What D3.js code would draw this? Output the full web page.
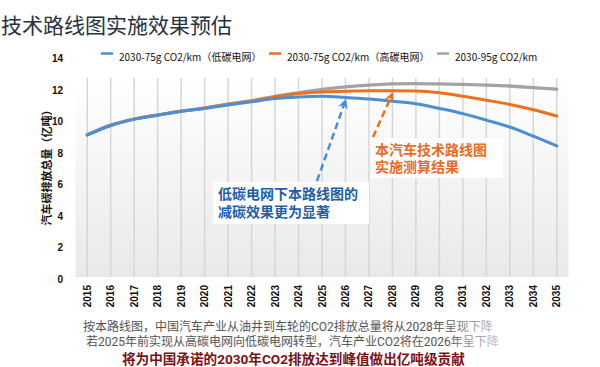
<!DOCTYPE html>
<html><head><meta charset="utf-8">
<script src="https://cdn.jsdelivr.net/npm/d3@7/dist/d3.min.js"></script>
<style>
html,body{margin:0;padding:0;background:#fff;}
svg{display:block;}
</style></head>
<body>
<svg id="c" width="600" height="367"></svg>
<script>
const years = ["2015","2016","2017","2018","2019","2020","2021","2022","2023","2024","2025","2026","2027","2028","2029","2030","2031","2032","2033","2034","2035"];
const lowCarbon = [9.0,9.6,10.0,10.25,10.5,10.68,10.9,11.1,11.3,11.41,11.45,11.37,11.27,11.14,10.98,10.68,10.35,9.94,9.5,8.92,8.3];
const highCarbon = [9.0,9.6,10.0,10.27,10.5,10.7,10.94,11.13,11.4,11.62,11.72,11.76,11.8,11.8,11.78,11.67,11.45,11.2,10.93,10.6,10.2];
const base95 = [9.0,9.62,10.0,10.25,10.5,10.7,10.95,11.17,11.45,11.67,11.88,12.04,12.16,12.23,12.25,12.23,12.2,12.16,12.1,12.0,11.9];
const yTicks = [0,2,4,6,8,10,12,14];
const seriesNames = ["2030-75g CO2/km（低碳电网）","2030-75g CO2/km（高碳电网）","2030-95g CO2/km"];
const seriesColors = ["#4a8fd6","#ef6f1f","#a3a3a3"];
const titleText = "技术路线图实施效果预估";
const yTitle = "汽车碳排放总量（亿吨）";
const noteBlue = ["低碳电网下本路线图的","减碳效果更为显著"];
const noteOrange = ["本汽车技术路线图","实施测算结果"];
const footLines = ["按本路线图，中国汽车产业从油井到车轮的CO2排放总量将从2028年呈现下降",
                   "若2025年前实现从高碳电网向低碳电网转型，汽车产业CO2将在2026年呈下降"];
const footBold = "将为中国承诺的2030年CO2排放达到峰值做出亿吨级贡献";

const svg = d3.select("#c");
const CJK = "'Noto Sans CJK SC', 'Noto Sans', sans-serif";
const TIGHT = "Roboto, 'Noto Sans CJK SC', sans-serif";
const NARROW = "'Liberation Sans Narrow', 'Arial Narrow', 'Noto Sans CJK SC', sans-serif";

const x = d3.scaleBand().domain(years).range([75.5, 568.5]).padding(0);
const xc = d => x(d) + x.bandwidth()/2;
const y = d3.scaleLinear().domain([0,14]).range([277, 56]);

const defs = svg.append("defs");
const bg = defs.append("linearGradient").attr("id","bg").attr("x1",0).attr("y1",0).attr("x2",0).attr("y2",1);
bg.append("stop").attr("offset","0%").attr("stop-color","#ffffff");
bg.append("stop").attr("offset","100%").attr("stop-color","#e9e9e9");
const fade = defs.append("linearGradient").attr("id","fade").attr("gradientUnits","userSpaceOnUse")
  .attr("x1",445).attr("y1",0).attr("x2",505).attr("y2",0);
fade.append("stop").attr("offset","0%").attr("stop-color","#555");
fade.append("stop").attr("offset","45%").attr("stop-color","#999");
fade.append("stop").attr("offset","100%").attr("stop-color","#d0d0d0");

// title
svg.append("text").attr("x",1).attr("y",33).attr("font-family",CJK).attr("font-size",21)
  .attr("fill","#26323e").text(titleText);

// plot background
svg.append("rect").attr("x",75.5).attr("y",78).attr("width",493).attr("height",199).attr("fill","url(#bg)");

// grid lines
svg.append("g").selectAll("line").data(years).join("line")
  .attr("x1",d=>xc(d)).attr("x2",d=>xc(d)).attr("y1",78).attr("y2",277)
  .attr("stroke","#d6d6d6").attr("stroke-width",1.5);

// y ticks
const yAxis = svg.append("g").attr("transform","translate(63,0)")
  .call(d3.axisLeft(y).tickValues(yTicks).tickSize(0).tickPadding(0));
yAxis.select(".domain").remove();
yAxis.selectAll("text").attr("font-family","'Liberation Sans', Arial, sans-serif").attr("font-size",10)
  .attr("font-weight","bold").attr("fill","#111").attr("dy","0.55em");

// x ticks
const xAxis = svg.append("g").attr("transform","translate(0,285)")
  .call(d3.axisBottom(x).tickSize(0).tickPadding(0));
xAxis.select(".domain").remove();
xAxis.selectAll("text").attr("font-family","'Liberation Sans', Arial, sans-serif").attr("font-size",10)
  .attr("font-weight","bold").attr("fill","#111")
  .attr("text-anchor","end").attr("transform","rotate(-90)").attr("x",0).attr("y",0).attr("dy","0.35em");

// y title
svg.append("text").attr("transform","translate(46,165) rotate(-90)").attr("text-anchor","middle")
  .attr("dominant-baseline","central").attr("font-family",CJK).attr("font-size",11).attr("font-weight","bold")
  .attr("fill","#111").text(yTitle);

// lines
const line = d3.line().x((d,i)=>xc(years[i])).y(d=>y(d)).curve(d3.curveMonotoneX);
const all = [lowCarbon, highCarbon, base95];
[2,1,0].forEach(k=>{
  svg.append("path").datum(all[k]).attr("d",line).attr("fill","none")
    .attr("stroke",seriesColors[k]).attr("stroke-width",k===2?3.3:3).attr("stroke-linecap","round");
});

// legend
const legX = [101, 269, 437];
seriesNames.forEach((n,i)=>{
  svg.append("line").attr("x1",legX[i]).attr("x2",legX[i]+12).attr("y1",53.5).attr("y2",53.5)
    .attr("stroke",seriesColors[i]).attr("stroke-width",2.5);
  svg.append("text").attr("x",legX[i]+18).attr("y",61).attr("font-family",NARROW).attr("font-size",10)
    .attr("fill","#111").text(n);
});

// arrow markers
function marker(id,color){
  defs.append("marker").attr("id",id).attr("viewBox","0 0 10 10").attr("refX",8).attr("refY",5)
    .attr("markerWidth",4).attr("markerHeight",4).attr("orient","auto")
    .append("path").attr("d","M0,0 L10,5 L0,10 L3,5 Z").attr("fill",color);
}
marker("ab","#4a8fd6");
marker("ao","#ef6f1f");

// annotation boxes
svg.append("rect").attr("x",213).attr("y",182).attr("width",156).attr("height",42).attr("fill","#fff");
svg.append("rect").attr("x",370).attr("y",138).attr("width",133).attr("height",40).attr("fill","#fff");

// arrows
svg.append("line").attr("x1",317).attr("y1",181).attr("x2",xc("2026")).attr("y2",y(11.37)+3)
  .attr("stroke","#4a8fd6").attr("stroke-width",2.5).attr("stroke-dasharray","7,4").attr("marker-end","url(#ab)");
svg.append("line").attr("x1",373).attr("y1",137).attr("x2",xc("2028")).attr("y2",y(11.8)+3)
  .attr("stroke","#ef6f1f").attr("stroke-width",2.5).attr("stroke-dasharray","7,4").attr("marker-end","url(#ao)");

// annotation texts
noteBlue.forEach((t,i)=>{
  svg.append("text").attr("x",218).attr("y",199+i*18).attr("font-family",TIGHT).attr("font-size",14)
    .attr("font-weight","bold").attr("fill","#1f5ea8").text(t);
});
noteOrange.forEach((t,i)=>{
  svg.append("text").attr("x",375).attr("y",155+i*17).attr("font-family",TIGHT).attr("font-size",14)
    .attr("font-weight","bold").attr("fill","#ec6a1c").text(t);
});

// footer
svg.append("text").attr("x",83).attr("y",331).attr("font-family",TIGHT).attr("font-size",12)
  .attr("fill","url(#fade)").text(footLines[0]);
svg.append("text").attr("x",86).attr("y",346).attr("font-family",TIGHT).attr("font-size",12)
  .attr("fill","url(#fade)").text(footLines[1]);
svg.append("text").attr("x",122).attr("y",364).attr("font-family",TIGHT).attr("font-size",13.6)
  .attr("font-weight","bold").attr("fill","#7c1016").text(footBold);
</script>
</body></html>
